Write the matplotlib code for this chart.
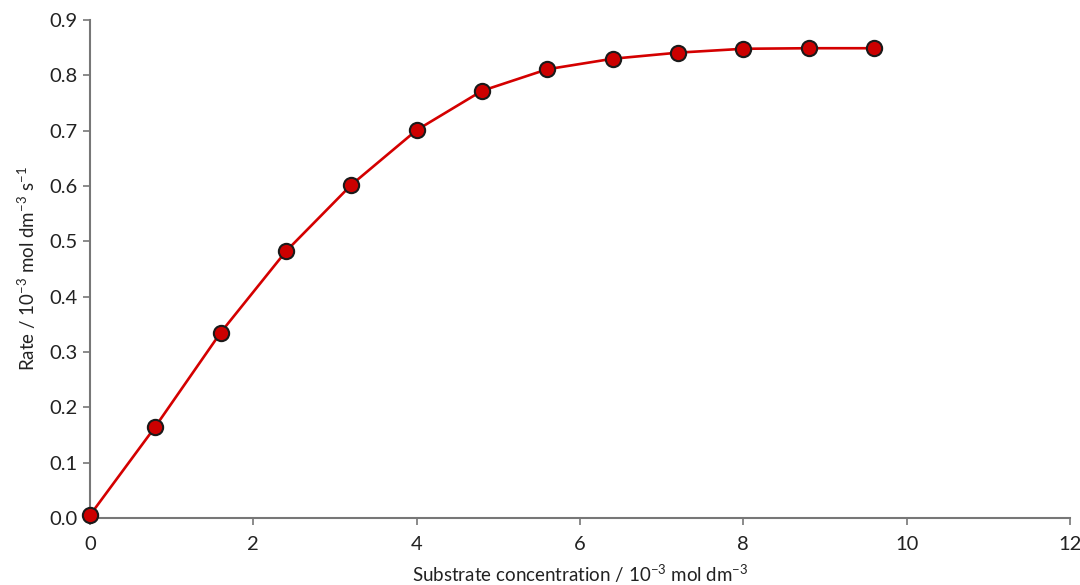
import matplotlib
matplotlib.use('Agg')
import matplotlib.pyplot as plt

plt.rcParams['font.family'] = ['Lato', 'DejaVu Sans']
plt.rcParams['mathtext.fontset'] = 'custom'
plt.rcParams['mathtext.rm'] = 'Lato'
plt.rcParams['mathtext.default'] = 'regular'

# substrate concentration / 10^-3 mol dm^-3
conc = [0, 0.8, 1.6, 2.4, 3.2, 4.0, 4.8, 5.6, 6.4, 7.2, 8.0, 8.8, 9.6]
# rate / 10^-3 mol dm^-3 s^-1
rate = [0.005, 0.165, 0.335, 0.482, 0.602, 0.701, 0.772, 0.811, 0.830, 0.841, 0.848, 0.849, 0.849]

xticks = [0, 2, 4, 6, 8, 10, 12]
yticks = [0.0, 0.1, 0.2, 0.3, 0.4, 0.5, 0.6, 0.7, 0.8, 0.9]

fig = plt.figure(figsize=(10.8, 5.85), dpi=100)
ax = fig.add_axes([0.0833, 0.1145, 0.9074, 0.8513])

ax.plot(conc, rate, color='#d40000', lw=1.9, zorder=2, clip_on=False,
        solid_joinstyle='round')
ax.plot(conc, rate, 'o', ms=11, mfc='#cc0000', mec='#1a1a1a', mew=1.5, zorder=3, clip_on=False)

ax.set_xlim(0, 12)
ax.set_ylim(0, 0.9)
ax.set_xticks(xticks)
ax.set_xticklabels([str(t) for t in xticks])
ax.set_yticks(yticks)
ax.set_yticklabels(['%.1f' % t for t in yticks])

for s in ['top', 'right']:
    ax.spines[s].set_visible(False)
for s in ['left', 'bottom']:
    ax.spines[s].set_color('#777777')
    ax.spines[s].set_linewidth(1.5)
ax.tick_params(direction='out', length=5, width=1.2, color='#777777',
               labelsize=14.5, labelcolor='#222222')
ax.tick_params(axis='x', pad=8)
ax.tick_params(axis='y', pad=4)

ax.set_xlabel('Substrate concentration / 10$^{-3}$ mol dm$^{-3}$', fontsize=13.5, color='#222222', labelpad=7)
ax.set_ylabel('Rate / 10$^{-3}$ mol dm$^{-3}$ s$^{-1}$', fontsize=13.5, color='#222222', labelpad=8)

fig.savefig('out.png', dpi=100)
